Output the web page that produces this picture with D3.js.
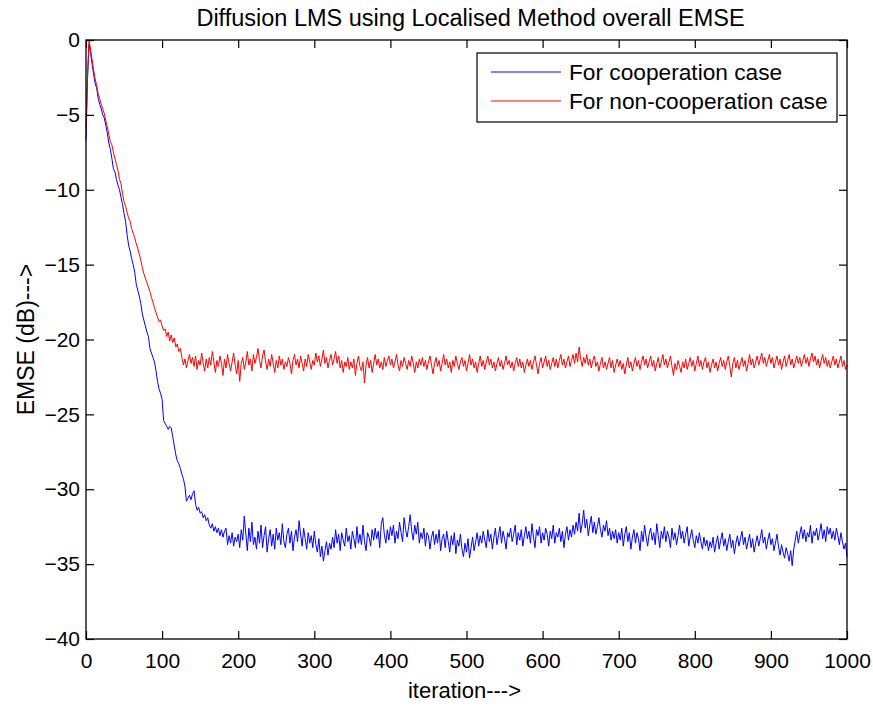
<!DOCTYPE html>
<html>
<head>
<meta charset="utf-8">
<script src="https://cdn.jsdelivr.net/npm/d3@7"></script>
<style>
  body { margin: 0; background: #fff; }
  text { font-family: "Liberation Sans", Arial, sans-serif; fill: #000; }
  .axis path.domain { display: none; }
  .axis line { stroke: #000; stroke-width: 1.2; }
  .axis text { font-size: 21px; }
</style>
</head>
<body>
<div id="chart"></div>
<script>
var margins = { top: 40, right: 26, bottom: 67, left: 86 };
var width = 873, height = 706;

var title = "Diffusion LMS using Localised Method overall EMSE";
var xLabel = "iteration--->";
var yLabel = "EMSE (dB)--->";
var seriesNames = ["For cooperation case", "For non-cooperation case"];
var seriesColors = ["#0000ff", "#ff0000"];

var xTicks = [0, 100, 200, 300, 400, 500, 600, 700, 800, 900, 1000];
var yTicks = [0, -5, -10, -15, -20, -25, -30, -35, -40];

// iterations 0..1000, one value every 2 iterations
var iterations = d3.range(0, 1001, 2);

// cooperation case (blue)
var coopEmse = [
  -6.7, -2.6, -0.3, -0.9, -1.6, -2.3, -2.9, -3.2, -3.9, -4.3,
  -4.6, -5.0, -5.2, -5.7, -6.2, -6.9, -7.3, -7.9, -8.6, -8.8,
  -9.3, -9.7, -10.0, -10.5, -11.0, -11.6, -12.1, -13.0, -13.7, -14.1,
  -14.6, -15.0, -15.5, -16.3, -16.7, -17.1, -17.6, -18.3, -18.7, -19.1,
  -19.5, -19.8, -20.6, -20.9, -21.2, -21.5, -22.1, -22.8, -23.3, -23.6,
  -24.0, -25.4, -25.6, -25.8, -26.0, -25.8, -25.9, -26.5, -27.1, -27.7,
  -28.1, -28.3, -28.6, -29.0, -29.3, -29.8, -30.8, -30.6, -30.4, -30.7,
  -30.3, -30.1, -31.0, -31.4, -31.2, -31.6, -31.5, -31.9, -31.7, -32.1,
  -31.9, -32.4, -32.6, -32.3, -32.8, -32.5, -32.9, -32.6, -33.1, -32.7,
  -33.2, -32.8, -32.6, -33.7, -33.1, -33.6, -32.9, -33.8, -33.2, -33.5,
  -33.0,
  -33.9, -32.7, -33.4, -31.8, -33.0, -34.1, -32.6, -33.5, -32.2, -33.7,
  -33.2, -34.0, -32.8, -33.6, -32.4, -33.9, -33.1, -32.5, -34.2, -33.3,
  -32.7, -33.8, -33.0, -34.0, -32.6, -33.4, -32.9, -33.7, -32.3, -33.5,
  -33.9, -33.0, -32.6, -33.6, -32.8, -34.1, -33.2, -32.7, -33.5, -32.1,
  -33.0, -33.8, -32.6, -33.3, -34.0, -32.9, -33.6, -33.1, -33.9, -32.8,
  -33.7, -34.2, -33.3, -34.5, -33.8, -34.8, -34.1, -33.5, -34.4, -33.6,
  -34.0, -33.2, -33.9, -32.7, -33.6, -33.0, -34.1, -32.9, -33.4, -33.8,
  -32.6, -33.5, -33.1, -34.0, -32.8, -33.3, -33.9, -32.5, -33.6, -33.0,
  -33.7, -32.4, -33.5, -34.1, -32.9, -33.2, -33.8, -32.7, -33.4, -32.6,
  -33.3, -32.8, -33.9, -32.3, -31.9, -33.0, -33.6, -32.7, -33.4, -32.5,
  -33.1, -32.4, -33.6, -32.8, -33.3, -32.2, -32.9, -33.5, -31.9, -32.7,
  -33.2, -32.5, -31.7, -32.8, -33.4, -32.4, -33.0, -32.2, -33.6, -32.9,
  -33.3, -32.6, -33.8, -32.9, -33.1, -34.0, -33.2, -32.8, -33.7, -33.0,
  -33.6, -32.7, -34.1, -33.3, -33.0, -33.9, -32.8, -33.5, -34.2, -33.1,
  -33.7, -32.9, -34.3, -33.4, -33.8, -33.0, -34.0, -34.5, -33.6, -34.2,
  -33.3, -34.6, -33.9, -33.2, -34.1, -33.5, -32.9, -33.8, -33.1, -33.6,
  -32.8, -33.4, -33.9, -32.7, -33.5, -33.0, -34.0, -33.2, -32.6, -33.7,
  -33.1, -32.5, -33.6, -32.8, -33.3, -34.0, -32.9, -33.2, -32.6, -33.5,
  -33.0, -32.4, -33.7, -32.9, -33.4, -32.7, -33.8, -33.1, -32.5, -33.3,
  -32.8, -33.6, -32.3, -33.2, -33.9, -32.7, -33.1, -32.5, -33.6, -32.9,
  -33.4, -32.6, -33.0, -33.8, -32.8, -33.3, -32.4, -33.6, -32.9, -33.2,
  -32.6, -33.5, -32.8, -33.9, -33.0, -32.5, -33.4, -32.7, -33.2, -32.4,
  -33.0, -32.2, -32.8, -31.6, -32.9, -32.3, -31.4, -32.6, -32.0, -33.1,
  -32.4, -31.8, -32.9, -32.2, -33.0, -32.5, -31.9, -32.7, -33.2, -32.4,
  -32.8, -32.1, -33.1, -32.6, -33.4, -32.8, -33.3, -32.7, -33.6, -32.9,
  -33.4, -32.6, -33.8, -33.0, -32.5, -33.5, -32.9, -34.0, -33.2, -32.7,
  -33.6, -32.9, -33.3, -34.1, -32.8, -33.5, -32.4, -33.2, -33.8, -33.0,
  -32.6, -33.4, -32.9, -33.7, -32.3, -33.1, -33.9, -32.8, -33.3, -32.5,
  -33.5, -32.8, -33.2, -33.9, -32.6, -33.4, -32.9, -33.7, -33.1, -32.4,
  -33.3, -32.8, -33.6, -33.0, -32.5, -33.8, -33.2, -32.7, -33.4, -33.9,
  -33.1, -33.6, -32.9, -33.5, -34.0, -33.2, -33.8, -33.4, -34.1, -33.5,
  -33.9, -33.2, -34.2, -33.6, -33.1, -34.0, -33.4, -32.9, -33.8, -33.3,
  -34.1, -33.5, -33.0, -33.9, -33.4, -34.3, -33.6, -33.1, -33.8, -33.3,
  -32.8, -33.7, -33.2, -34.0, -33.5, -33.0, -33.9, -33.3, -34.2, -33.6,
  -33.1, -33.8, -33.3, -32.7, -33.6, -33.2, -34.0, -33.4, -32.9, -33.7,
  -33.3, -34.1, -33.6, -33.0, -33.8, -34.4, -33.7, -34.2, -34.6, -33.9,
  -34.3, -34.8, -34.1, -35.1, -34.0, -33.4, -32.8, -33.6, -33.0, -32.5,
  -33.3, -32.7, -33.5, -32.9, -33.2, -32.4, -33.6, -32.8, -33.1, -32.6,
  -33.4, -32.9, -32.3, -33.3, -32.7, -33.5, -32.5, -33.0, -32.6, -33.3,
  -32.8, -33.4, -32.6, -33.1, -33.7, -32.9, -33.5, -34.0, -33.6, -34.5
];

// non-cooperation case (red)
var nonCoopEmse = [
  -5.9, -2.3, 0.0, -0.6, -1.3, -2.0, -2.6, -3.0, -3.6, -3.9,
  -4.3, -4.6, -4.9, -5.4, -5.8, -6.3, -6.8, -7.0, -7.5, -7.9,
  -8.3, -8.7, -9.3, -9.6, -10.3, -10.8, -11.1, -11.5, -11.9, -12.1,
  -12.6, -12.9, -13.2, -13.6, -13.9, -14.3, -14.7, -15.2, -15.6, -15.9,
  -16.2, -16.5, -16.8, -17.2, -17.5, -17.9, -18.2, -18.5, -18.8, -18.7,
  -19.1, -19.4, -19.3, -19.8, -19.5, -20.1, -19.7, -20.2, -19.9, -20.5,
  -20.3, -20.8, -20.6, -21.2, -21.7, -21.3, -21.9, -21.4, -21.0, -21.6,
  -21.2,
  -21.8, -21.1, -22.0, -21.4, -21.7, -20.9, -21.6, -22.1, -21.3, -21.9,
  -21.2, -21.7, -20.8, -21.5, -22.2, -21.4, -21.8, -21.1, -21.6, -22.4,
  -21.3, -21.9, -21.0, -21.6, -22.1, -21.5, -20.9, -21.7, -22.3, -21.4,
  -22.8, -21.6, -21.2, -22.0, -21.5, -20.8, -21.7, -21.3, -22.1, -21.0,
  -21.6, -21.2, -20.6, -21.4, -21.9, -21.1, -20.7, -21.5, -22.0, -21.3,
  -21.8, -21.0, -21.6, -22.2, -21.4, -21.9, -21.1, -21.7, -21.3, -22.0,
  -21.5, -21.8, -21.2, -21.6, -22.3, -21.4, -21.0, -21.7, -21.3, -21.9,
  -21.1, -21.6, -22.1, -21.3, -21.8, -21.0, -21.5, -22.0, -21.4, -21.7,
  -20.9, -21.5, -21.1, -21.8, -21.3, -20.7, -21.6, -21.2, -21.9, -21.4,
  -21.0, -21.7, -21.3, -20.8, -21.6, -21.1, -21.9, -21.4, -22.2, -21.5,
  -21.8, -21.2, -22.0, -21.5, -21.9, -21.3, -22.4, -21.6, -21.1, -21.8,
  -22.1, -21.5, -22.9, -21.7, -21.2, -21.9, -21.4, -22.2, -21.6, -21.0,
  -21.7, -21.3, -21.9, -21.5, -22.0, -21.2, -21.8, -21.4, -21.1, -21.7,
  -21.3, -21.9, -21.5, -21.0, -21.7, -22.1, -21.4, -21.8, -21.2, -21.6,
  -22.0, -21.4, -21.8, -21.1, -21.6, -22.2, -21.5, -21.9, -21.3, -21.7,
  -21.2, -21.8, -21.4, -22.0, -21.5, -21.1, -21.7, -22.3, -21.6, -21.2,
  -21.8, -21.4, -22.1, -21.6, -21.0, -21.7, -21.3, -21.9, -21.5, -22.2,
  -21.4, -21.8, -21.1, -21.6, -22.0, -21.5, -21.2, -21.8, -21.4, -22.1,
  -21.6, -21.0, -21.7, -21.3, -21.9, -21.5, -22.2, -21.6, -21.1, -21.8,
  -21.4, -22.0, -21.5, -21.1, -21.7, -21.3, -21.9, -21.5, -22.1, -21.6,
  -21.2, -21.8, -21.4, -22.0, -21.6, -21.1, -21.7, -21.4, -21.9, -21.5,
  -22.1, -21.6, -21.2, -21.8, -21.3, -21.9, -21.5, -22.2, -21.7, -21.3,
  -21.8, -21.4, -22.0, -21.5, -21.1, -21.7, -22.3, -21.6, -21.2, -21.9,
  -21.5, -21.1, -21.8, -21.4, -22.0, -21.6, -21.2, -21.8, -21.3, -21.9,
  -21.4, -21.0, -21.7, -21.3, -21.9, -21.5, -21.1, -21.8, -21.4, -21.0,
  -21.6, -20.9, -21.5, -20.5, -21.3, -21.8, -21.2, -21.6, -21.0, -21.7,
  -21.3, -21.9, -21.4, -21.1, -21.8, -21.5, -22.1, -21.6, -21.2, -21.9,
  -21.5, -22.0, -21.6, -21.2, -21.9, -21.4, -22.2, -21.7, -21.3, -21.8,
  -21.4, -22.0, -21.6, -22.3, -21.7, -21.2, -21.9, -21.5, -22.1, -21.6,
  -21.2, -21.8, -21.4, -22.0, -21.5, -21.1, -21.7, -21.3, -21.9, -21.5,
  -21.1, -21.8, -21.4, -22.1, -21.6, -21.2, -21.9, -21.5, -21.0, -21.7,
  -21.3, -21.9, -21.5, -21.1, -21.8, -22.4, -21.6, -22.0, -21.4, -21.8,
  -22.2, -21.5, -21.9, -21.3, -22.0, -21.6, -21.2, -21.8, -21.4, -22.1,
  -21.6, -21.1, -21.8, -21.4, -22.0, -21.5, -21.2, -21.9, -21.5, -22.2,
  -21.7, -21.3, -21.9, -21.5, -22.1, -21.6, -21.2, -21.8, -21.4, -22.0,
  -21.5, -21.1, -21.8, -22.5, -21.6, -21.2, -21.9, -21.4, -22.0, -21.6,
  -21.2, -21.8, -21.4, -22.1, -21.6, -21.0, -21.7, -21.3, -21.9, -21.5,
  -21.1, -21.7, -21.3, -20.9, -21.6, -21.2, -21.8, -21.4, -21.0, -21.6,
  -21.2, -21.9, -21.5, -21.1, -21.7, -21.3, -22.0, -21.5, -21.1, -21.8,
  -21.4, -21.0, -21.7, -21.3, -21.9, -21.5, -21.1, -21.6, -21.2, -21.8,
  -21.4, -21.0, -21.6, -21.2, -21.8, -21.3, -20.9, -21.5, -21.1, -21.7,
  -21.3, -21.9, -21.4, -21.0, -21.6, -21.2, -21.8, -21.4, -21.9, -21.5,
  -21.1, -21.7, -21.3, -21.9, -21.5, -21.1, -21.8, -21.4, -22.0, -21.7
];

var x = d3.scaleLinear()
  .domain([0, 1000])
  .range([margins.left, width - margins.right]);

var y = d3.scaleLinear()
  .domain([-40, 0])
  .range([height - margins.bottom, margins.top]);

var svg = d3.select("#chart")
  .append("svg")
  .attr("width", width)
  .attr("height", height);

svg.append("rect")
  .attr("width", width)
  .attr("height", height)
  .attr("fill", "#fff");

// lines
var line = d3.line()
  .x((d, i) => x(iterations[i]))
  .y((d) => y(d));

[coopEmse, nonCoopEmse].forEach(function (s, k) {
  svg.append("path")
    .datum(s)
    .attr("fill", "none")
    .attr("stroke", seriesColors[k])
    .attr("stroke-width", 1)
    .attr("d", line);
});

// axes, ticks pointing inwards on all four sides
var tickLen = 8;

svg.append("g")
  .attr("class", "axis")
  .attr("transform", "translate(0," + y(-40) + ")")
  .call(d3.axisBottom(x).tickValues(xTicks).tickSize(-tickLen).tickSizeOuter(0)
    .tickPadding(14).tickFormat(d3.format("d")));

svg.append("g")
  .attr("class", "axis")
  .attr("transform", "translate(0," + y(0) + ")")
  .call(d3.axisTop(x).tickValues(xTicks).tickSize(-tickLen).tickSizeOuter(0).tickFormat(""));

svg.append("g")
  .attr("class", "axis")
  .attr("transform", "translate(" + x(0) + ",0)")
  .call(d3.axisLeft(y).tickValues(yTicks).tickSize(-tickLen).tickSizeOuter(0).tickPadding(6));

svg.append("g")
  .attr("class", "axis")
  .attr("transform", "translate(" + x(1000) + ",0)")
  .call(d3.axisRight(y).tickValues(yTicks).tickSize(-tickLen).tickSizeOuter(0).tickFormat(""));

// box
svg.append("rect")
  .attr("x", x(0))
  .attr("y", y(0))
  .attr("width", x(1000) - x(0))
  .attr("height", y(-40) - y(0))
  .attr("fill", "none")
  .attr("stroke", "#000")
  .attr("stroke-width", 1.3);

// title and axis labels
svg.append("text")
  .attr("x", (x(0) + x(1000)) / 2 + 4)
  .attr("y", 26)
  .attr("text-anchor", "middle")
  .style("font-size", "23.5px")
  .text(title);

svg.append("text")
  .attr("x", (x(0) + x(1000)) / 2 - 2)
  .attr("y", 698)
  .attr("text-anchor", "middle")
  .style("font-size", "22px")
  .text(xLabel);

svg.append("text")
  .attr("transform", "translate(34," + y(-20) + ") rotate(-90)")
  .attr("text-anchor", "middle")
  .style("font-size", "23px")
  .text(yLabel);

// legend
var legend = svg.append("g").attr("transform", "translate(477,53)");

legend.append("rect")
  .attr("width", 360)
  .attr("height", 69)
  .attr("fill", "#fff")
  .attr("stroke", "#000")
  .attr("stroke-width", 1.2);

seriesNames.forEach(function (name, k) {
  var ly = 19 + k * 29;
  legend.append("line")
    .attr("x1", 14)
    .attr("x2", 84)
    .attr("y1", ly)
    .attr("y2", ly)
    .attr("stroke", seriesColors[k])
    .attr("stroke-width", 1);
  legend.append("text")
    .attr("x", 92)
    .attr("y", ly)
    .attr("dy", "0.35em")
    .style("font-size", "22.7px")
    .text(name);
});
</script>
</body>
</html>
